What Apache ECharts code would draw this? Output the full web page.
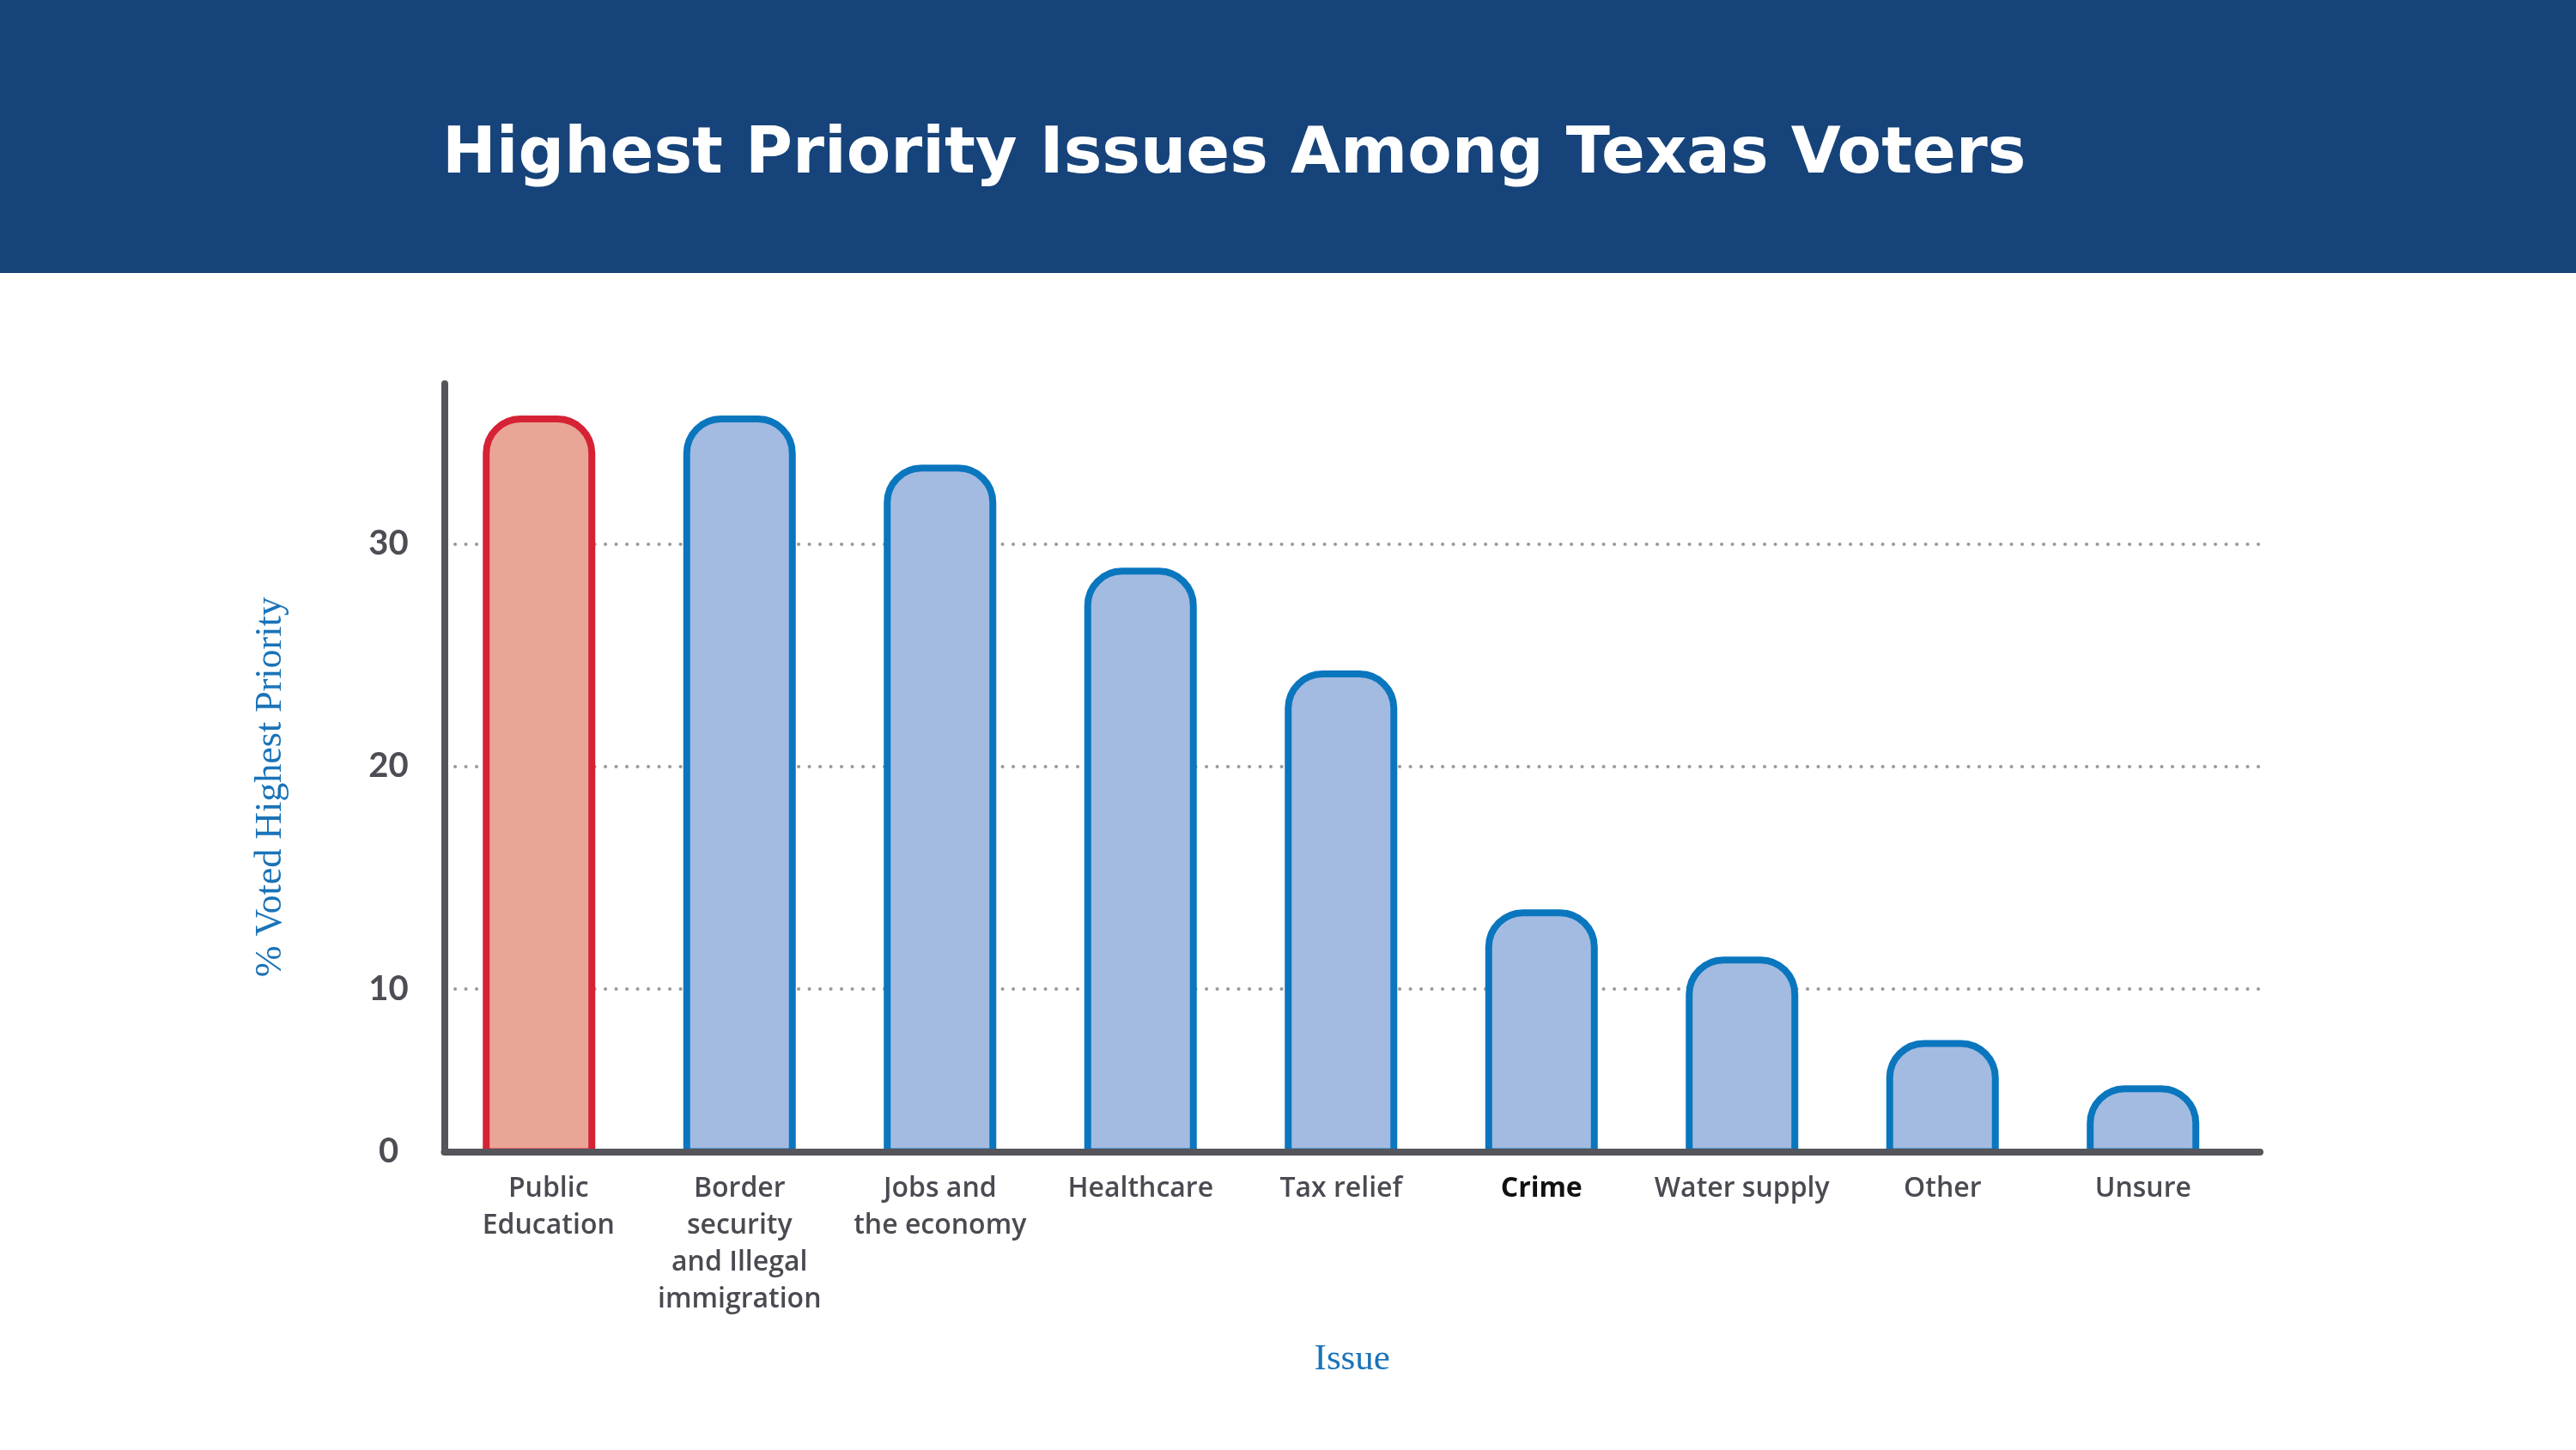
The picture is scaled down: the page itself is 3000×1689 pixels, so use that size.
<!DOCTYPE html>
<html>
<head>
<meta charset="utf-8">
<script src="https://cdn.jsdelivr.net/npm/echarts@6/dist/echarts.min.js"></script>
<style>
html,body{margin:0;padding:0;background:#fff;}
#c{width:3000px;height:1689px;}
</style>
</head>
<body>
<div id="c"></div>
<script>
const titleText = 'Highest Priority Issues Among Texas Voters';
const categories = ['Public\nEducation', 'Border\nsecurity\nand Illegal\nimmigration', 'Jobs and\nthe economy', 'Healthcare', 'Tax relief', 'Crime', 'Water supply', 'Other', 'Unsure'];
const values = [35.76, 35.76, 33.55, 28.92, 24.3, 13.57, 11.45, 7.7, 5.66];
const yMin = 2.68;
const yMax = 37.19;
const yTickValues = [yMin, 10, 20, 30];
const yTickLabels = ['0', '10', '20', '30'];
const yAxisName = '% Voted Highest Priority';
const xAxisName = 'Issue';

const chart = echarts.init(document.getElementById('c'), null, {renderer: 'canvas'});

function yLabel(v) {
  for (let i = 0; i < yTickValues.length; i++) {
    if (Math.abs(v - yTickValues[i]) < 1e-6) return yTickLabels[i];
  }
  return '';
}

const catData = categories.map((c, i) => {
  if (c === 'Crime') return {value: c, textStyle: {color: '#111111', fontWeight: 700}};
  if (i === 0) return {value: c, textStyle: {padding: [0, 0, 0, 22]}};
  return c;
});

const barData = values.map((v, i) => i === 0
  ? {value: v, itemStyle: {color: '#e9a596', borderColor: '#d52235'}}
  : v);

const option = {
  backgroundColor: '#ffffff',
  animation: false,
  graphic: [{
    type: 'rect', z: -10,
    shape: {x: 0, y: 0, width: 3000, height: 318},
    style: {fill: '#16437a'}
  }],
  title: {
    text: titleText,
    left: 510, top: 139,
    textStyle: {fontFamily: 'DejaVu Sans', fontWeight: 'bold', fontSize: 75, lineHeight: 75, color: '#ffffff'}
  },
  grid: [
    {left: 517.5, right: 368, top: 447, bottom: 347.5},
    {left: 511, width: 2101.5, top: 447, bottom: 347.5}
  ],
  xAxis: [{
    gridIndex: 0, type: 'value', min: 0, max: 1, z: 5,
    axisLine: {show: true, onZero: false, lineStyle: {color: '#55555c', width: 8, cap: 'round'}},
    axisTick: {show: false}, axisLabel: {show: false}, splitLine: {show: false},
    name: xAxisName, nameLocation: 'middle', nameGap: 221,
    nameTextStyle: {fontFamily: 'Liberation Serif', fontSize: 43, color: '#1a73b8'}
  }, {
    gridIndex: 1, type: 'category', data: catData,
    axisLine: {show: false}, axisTick: {show: false},
    axisLabel: {
      interval: 0, margin: 22,
      fontFamily: 'Open Sans', fontWeight: 600, fontSize: 32, lineHeight: 43, color: '#4a4a52'
    }
  }],
  yAxis: [{
    gridIndex: 0, type: 'value', min: yMin, max: yMax, minInterval: 10, maxInterval: 10, z: 0,
    axisLine: {show: true, onZero: false, lineStyle: {color: '#55555c', width: 8, cap: 'round'}},
    axisTick: {show: false},
    axisLabel: {
      formatter: yLabel, showMinLabel: true, showMaxLabel: false,
      align: 'center', margin: 65,
      fontFamily: 'Lato', fontWeight: 700, fontSize: 40, color: '#4d4d55'
    },
    splitLine: {show: true, showMinLine: false, showMaxLine: false,
      lineStyle: {color: '#9a9a9a', width: 4, type: [0.1, 12.4], cap: 'round'}},
    name: yAxisName, nameLocation: 'middle', nameGap: 180,
    nameTextStyle: {fontFamily: 'Liberation Serif', fontSize: 44, color: '#1a73b8', padding: [0, 45, 0, 0]}
  }, {
    gridIndex: 1, type: 'value', min: yMin, max: yMax, show: false
  }],
  series: [{
    type: 'bar', xAxisIndex: 1, yAxisIndex: 1, z: 2,
    data: barData, barWidth: 131,
    itemStyle: {color: '#a3bbe1', borderColor: '#0a76be', borderWidth: 8, borderRadius: [40, 40, 0, 0]}
  }]
};
chart.setOption(option);
</script>
</body>
</html>
